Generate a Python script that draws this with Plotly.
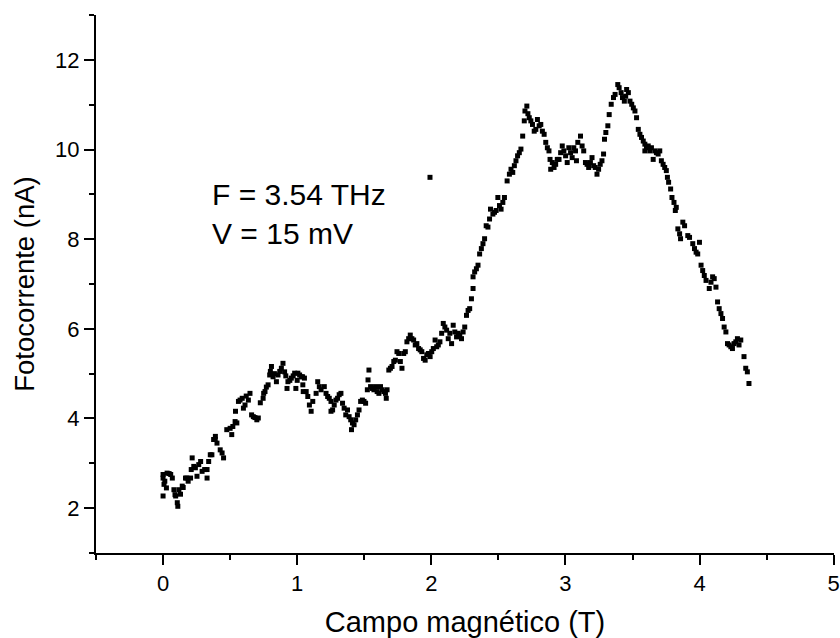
import plotly.graph_objects as go

# ---- data ----
field_a = [0.000,0.000,0.000,0.007,0.013,0.025,0.030,0.045,0.057,0.069,
           0.081,0.089,0.094,0.106,0.110,0.118,0.130,0.143,0.150,0.167,
           0.177,0.187,0.205,0.210,0.217,0.229,0.241,0.253,0.266,0.280,
           0.291,0.310,0.328,0.328,0.340,0.352,0.364,0.377,0.389,0.390,
           0.402,0.426,0.440,0.451,0.475,0.500,0.512,0.520,0.537,0.540,
           0.550,0.562,0.574,0.590,0.599,0.611,0.620,0.636,0.648,0.660,
           0.673,0.685,0.699,0.710,0.725,0.746,0.750,0.760,0.770,0.783,
           0.795,0.800,0.808,0.820,0.830,0.845,0.857,0.870,0.882,0.894,
           0.906,0.915,0.924,0.931,0.945,0.956,0.970,0.981,0.990]
current_a = [2.75,2.67,2.27,2.53,2.60,2.45,2.78,2.77,2.75,2.67,
             2.41,2.30,2.27,2.12,2.04,2.41,2.31,2.49,2.46,2.67,
             2.67,2.60,2.67,2.86,3.12,2.93,2.90,2.71,2.97,3.04,
             2.82,2.86,2.86,2.67,3.04,3.19,3.19,3.53,3.53,3.60,
             3.45,3.30,3.23,3.12,3.75,3.78,3.64,3.82,3.93,4.16,
             3.90,4.38,4.41,4.45,4.23,4.30,4.50,4.41,4.56,4.08,
             4.04,4.02,3.97,4.01,4.35,4.45,4.56,4.60,4.70,4.75,
             4.97,5.05,5.16,4.93,5.00,4.82,4.97,5.05,5.12,5.23,
             5.04,4.95,4.67,4.82,4.85,4.90,4.95,5.01,4.67]

field_b = [1.000,1.005,1.018,1.030,1.040,1.042,1.045,1.054,1.067,1.079,
           1.091,1.104,1.116,1.141,1.153,1.165,1.178,1.202,1.215,1.227,
           1.239,1.252,1.252,1.264,1.276,1.289,1.301,1.313,1.326,1.338,
           1.350,1.362,1.375,1.387,1.399,1.405,1.412,1.424,1.436,1.449,
           1.461,1.473,1.486,1.498,1.510,1.523,1.528,1.535,1.547,1.560,
           1.572,1.584,1.596,1.609,1.621,1.633,1.646,1.658,1.664,1.670,
           1.683,1.695,1.707,1.720,1.732,1.744,1.757,1.769,1.781,1.794,
           1.806,1.818,1.831,1.843,1.855,1.868,1.880,1.892,1.905,1.917,
           1.929,1.942,1.954,1.966,1.978,1.991,2.003,2.015,2.028,2.040,
           2.052,2.064,2.077,2.089,2.101,2.114,2.126,2.138,2.151]
current_b = [4.85,5.01,4.97,4.93,4.93,4.75,4.60,4.90,4.60,4.49,
             4.30,4.16,4.38,4.56,4.82,4.71,4.64,4.71,4.56,4.49,
             4.45,4.38,4.16,4.19,4.30,4.41,4.45,4.53,4.56,4.34,
             4.23,4.08,4.19,4.04,3.97,3.75,3.90,3.86,3.97,4.08,
             4.19,4.38,4.41,4.38,4.34,4.64,4.86,5.08,4.71,4.67,
             4.64,4.71,4.60,4.56,4.71,4.64,4.60,4.56,4.45,4.64,
             5.08,5.12,5.16,5.27,5.30,5.49,5.45,5.27,5.12,5.45,
             5.49,5.71,5.78,5.86,5.78,5.75,5.64,5.67,5.56,5.53,
             5.49,5.34,5.30,5.42,5.45,5.38,5.49,5.56,5.75,5.60,
             5.64,5.71,5.90,6.12,6.04,5.97,5.78,5.90,5.67]

field_c = [2.163,2.175,2.188,2.200,2.212,2.225,2.237,2.249,2.262,2.274,
           2.286,2.299,2.311,2.311,2.323,2.336,2.348,2.360,2.373,2.385,
           2.397,2.409,2.422,2.434,2.441,2.459,2.471,2.483,2.496,2.508,
           2.520,2.533,2.545,2.565,2.582,2.594,2.607,2.619,2.631,2.643,
           2.656,2.668,2.681,2.693,2.698,2.712,2.720,2.730,2.742,2.754,
           2.767,2.779,2.791,2.804,2.816,2.828,2.841,2.853,2.865,2.877,
           2.885,2.890,2.902,2.915,2.927,2.939,2.952,2.964,2.976,2.988,
           3.001,3.013,3.025,3.038,3.050,3.062,3.075,3.082,3.092,3.112,
           3.124,3.136,3.149,3.161,3.173,3.186,3.198,3.210,3.222]
current_c = [6.08,5.93,5.82,5.90,5.86,5.78,5.93,6.04,6.30,6.41,
             6.45,6.67,6.90,7.16,7.27,7.34,7.42,7.67,7.79,7.90,
             8.01,8.30,8.27,8.45,8.67,8.56,8.60,8.64,8.93,8.75,
             8.67,8.82,8.93,9.30,9.45,9.56,9.49,9.64,9.75,9.86,
             9.93,10.01,10.30,10.64,10.86,10.97,10.80,10.71,10.64,10.56,
             10.41,10.45,10.67,10.53,10.56,10.41,10.34,10.16,10.04,9.97,
             9.78,9.56,9.71,9.60,9.67,9.78,9.78,9.93,10.08,9.97,
             9.86,9.71,10.04,9.93,9.82,10.04,9.97,9.75,10.16,10.30,
             10.08,9.97,9.71,9.67,9.60,9.71,9.82,9.64,9.60]

field_d = [3.235,3.247,3.259,3.272,3.284,3.291,3.301,3.316,3.326,3.341,
           3.358,3.370,3.390,3.400,3.415,3.425,3.439,3.449,3.456,3.469,
           3.481,3.494,3.506,3.518,3.530,3.543,3.555,3.567,3.580,3.592,
           3.592,3.604,3.617,3.629,3.641,3.654,3.666,3.678,3.691,3.703,
           3.715,3.728,3.740,3.752,3.760,3.769,3.784,3.794,3.809,3.819,
           3.826,3.838,3.851,3.858,3.875,3.888,3.912,3.925,3.949,3.962,
           3.974,3.986,3.999,4.011,4.023,4.035,4.048,4.072,4.085,4.097,
           4.109,4.122,4.134,4.146,4.159,4.171,4.183,4.196,4.208,4.220,
           4.233,4.245,4.257,4.270,4.282,4.294,4.307,4.331,4.344,4.356,
           4.368]
current_d = [9.45,9.56,9.67,9.75,9.90,10.23,10.38,10.53,10.78,11.01,
             11.16,11.23,11.45,11.38,11.27,11.16,11.08,11.19,11.34,11.27,
             11.08,11.01,10.93,10.86,10.71,10.45,10.34,10.27,10.19,10.12,
             9.97,10.04,10.08,9.97,10.04,9.78,9.97,9.93,9.90,9.97,
             9.75,9.67,9.60,9.53,9.38,9.27,9.12,8.93,8.82,8.64,
             8.71,8.23,8.12,8.01,8.38,8.30,8.08,8.04,7.90,7.79,
             7.71,7.67,7.93,7.42,7.30,7.19,7.08,6.90,7.04,7.16,
             7.12,6.93,6.60,6.45,6.34,6.23,6.04,5.93,5.67,5.64,
             5.60,5.56,5.67,5.71,5.78,5.64,5.75,5.38,5.12,5.04,
             4.78]

field_outlier = [1.99]
current_outlier = [9.38]

x_ticks = [0, 1, 2, 3, 4, 5]
y_ticks = [2, 4, 6, 8, 10, 12]
x_title = "Campo magnético (T)"
y_title = "Fotocorrente (nA)"
notes = ["F = 3.54 THz", "V = 15 mV"]
note_pos_x = 0.347
note_pos_y = [9.0, 8.13]

field = field_a + field_b + field_c + field_d + field_outlier
current = current_a + current_b + current_c + current_d + current_outlier

FONT = "Liberation Sans, Arial, sans-serif"

fig = go.Figure()
fig.add_trace(go.Scatter(
    x=field, y=current, mode="markers",
    marker=dict(symbol="square", size=5, color="black", line=dict(width=0)),
    showlegend=False, hoverinfo="skip"))

axis_common = dict(
    showline=True, linecolor="black", linewidth=2,
    ticks="outside", ticklen=10, tickwidth=2, tickcolor="black",
    showgrid=False, zeroline=False, mirror=False,
    ticklabeloverflow="allow",
    tickfont=dict(family=FONT, size=22, color="black"),
)

fig.update_xaxes(
    range=[-0.5, 5.002], tickmode="array", tickvals=x_ticks,
    ticktext=[str(v) for v in x_ticks],
    minor=dict(ticks="outside", ticklen=5, tickwidth=2, tickcolor="black",
               dtick=0.5, tick0=0, showgrid=False),
    title=dict(text=x_title, font=dict(family=FONT, size=29, color="black"),
               standoff=20),
    **axis_common)
fig.update_yaxes(
    range=[0.998, 13.002], tickmode="array", tickvals=y_ticks,
    ticktext=[str(v) for v in y_ticks],
    minor=dict(ticks="outside", ticklen=5, tickwidth=2, tickcolor="black",
               dtick=1, tick0=0, showgrid=False),
    title=dict(text=y_title, font=dict(family=FONT, size=27.5, color="black"),
               standoff=12),
    **axis_common)

for txt, yy in zip(notes, note_pos_y):
    fig.add_annotation(x=note_pos_x, y=yy, xref="x", yref="y", text=txt,
                       showarrow=False, xanchor="left", yanchor="middle",
                       font=dict(family=FONT, size=30, color="black"))

fig.update_layout(
    width=840, height=638,
    margin=dict(l=96, r=0, t=15, b=85, pad=0),
    paper_bgcolor="white", plot_bgcolor="white",
    font=dict(family=FONT, color="black"),
)

fig.write_html("out.html")
